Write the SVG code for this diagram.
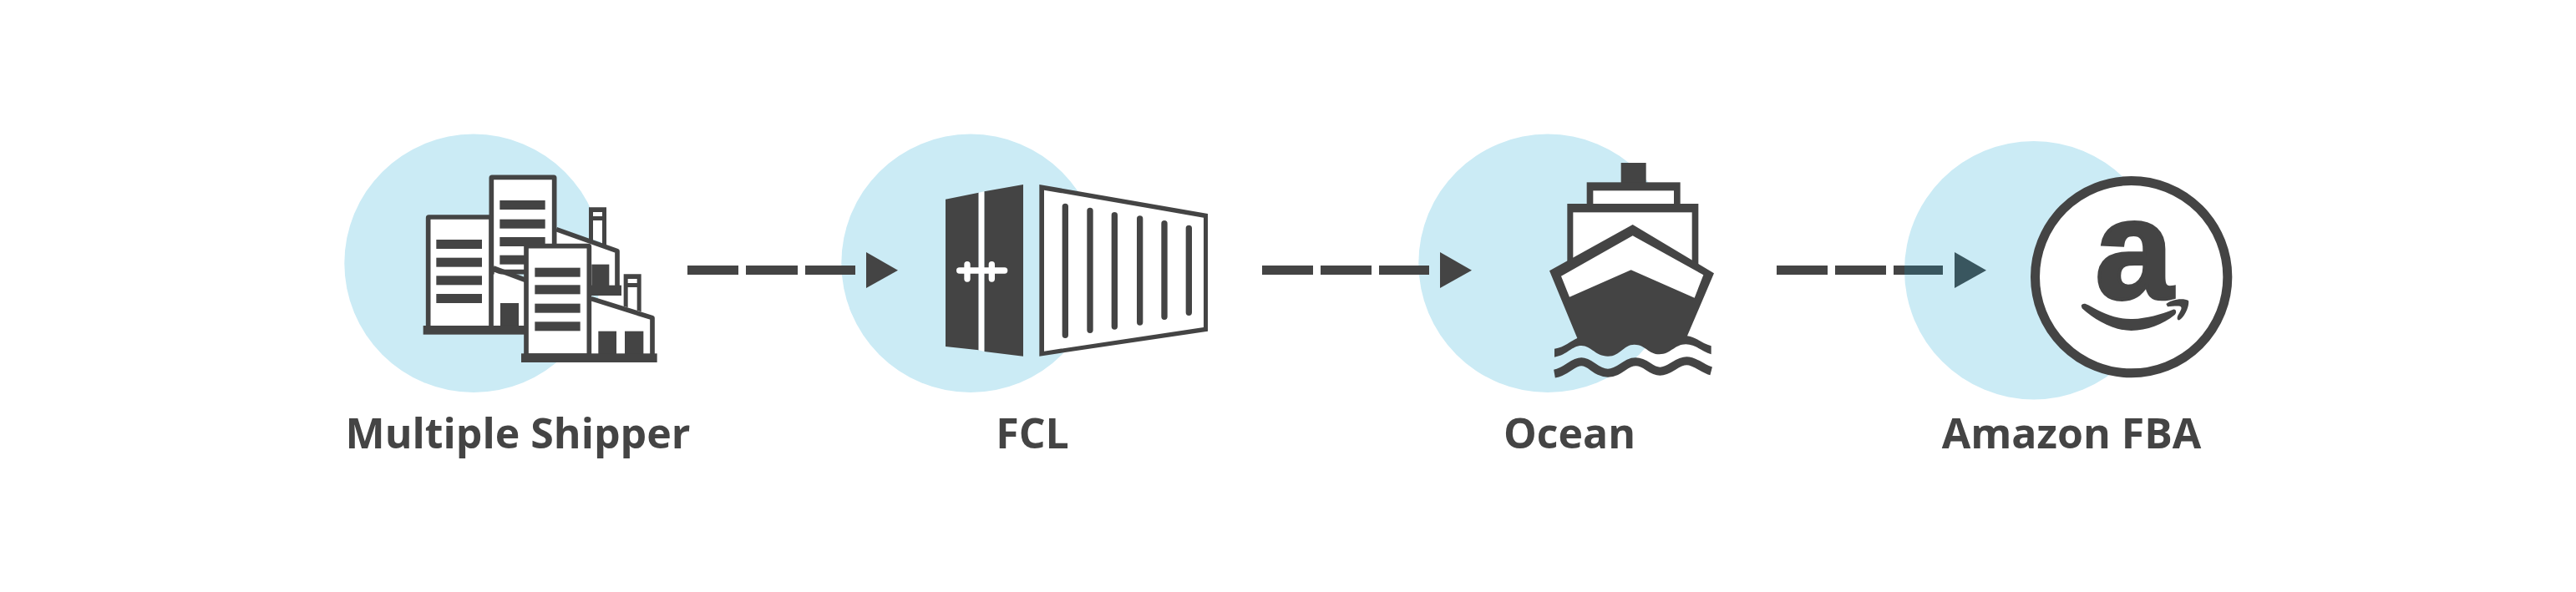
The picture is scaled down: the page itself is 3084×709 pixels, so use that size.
<svg xmlns="http://www.w3.org/2000/svg" width="3084" height="709" viewBox="0 0 3084 709">
<style>
.c{fill:#cbebf5}
.d{fill:#444}
.w{fill:#fff}
.o{fill:#fff;stroke:#444;stroke-width:17}
.l{font-family:"Open Sans",sans-serif;font-weight:700;font-size:50px;fill:#444;text-anchor:middle}
.b{stroke:#444;stroke-width:22;stroke-linecap:round;fill:none}
.h{stroke:#fff;stroke-width:22;stroke-linecap:round;fill:none}
</style>
<rect width="3084" height="709" fill="#fff"/>
<g id="node-multiple-shipper">
<circle class="c" cx="567" cy="315.3" r="154.7"/>
<g transform="translate(400 140) scale(.33333)">
<path class="w" d="M798 405L1017 482V612H900V470H798ZM572 545L690 590V752H572ZM923 655L1143 722V855H923ZM930 342H963V450L930 440ZM1055 582H1088V695L1055 680Z"/>
<path class="d" d="M915 325H978V466L963 460V372H930V445L915 440ZM930 342V357H963V342ZM1040 565H1103V700L1088 695V612H1055V685L1040 680ZM1055 582V597H1088V582Z" fill-rule="evenodd"/>
<path d="M798 404L1017 482V612M923 653L1143 722V855" fill="none" stroke="#444" stroke-width="17" stroke-linejoin="round"/>
<rect class="o" x="565" y="217" width="226" height="340" rx="2"/>
<rect class="d" x="595" y="300" width="163" height="33"/><rect class="d" x="595" y="368" width="163" height="33"/><rect class="d" x="595" y="432" width="163" height="33"/><rect class="d" x="595" y="497" width="163" height="33"/>
<path class="w" d="M575 557L680 597V752H575Z"/>
<path d="M572 543L692 588" fill="none" stroke="#444" stroke-width="17"/>
<rect class="o" x="338" y="360" width="226" height="400" rx="2"/>
<rect class="d" x="367" y="441" width="164" height="33"/><rect class="d" x="367" y="506" width="164" height="33"/><rect class="d" x="367" y="571" width="164" height="33"/><rect class="d" x="367" y="636" width="164" height="33"/>
<rect class="d" x="597" y="669" width="66" height="90"/>
<rect class="d" x="320" y="750" width="370" height="32"/>
<rect class="d" x="925" y="530" width="63" height="80"/>
<rect class="d" x="908" y="605" width="124" height="37"/>
<rect class="o" x="690" y="464" width="226" height="394" rx="2"/>
<rect class="d" x="721" y="542" width="163" height="33"/><rect class="d" x="721" y="604" width="163" height="33"/><rect class="d" x="721" y="671" width="163" height="33"/><rect class="d" x="721" y="736" width="163" height="33"/>
<rect class="d" x="949" y="770" width="65" height="85"/><rect class="d" x="1044" y="770" width="67" height="85"/>
<rect class="d" x="672" y="850" width="488" height="32"/>
</g>
<text class="l" x="620" y="537">Multiple Shipper</text>
</g>
<g id="node-fcl">
<circle class="c" cx="1162" cy="315.3" r="154.7"/>
<g transform="translate(1000 140) scale(.33333)">
<path class="d" d="M396 296L515 272V838L396 825ZM535 268L675 243V860L535 843Z"/>
<path class="w" d="M515 272L535 268V843L515 838Z"/>
<path class="h" d="M446 552H608M474 530V582M562 530V582"/>
<path class="d" d="M733 243L1338 348V770L733 860Z"/>
<path class="w" d="M750 263L1323 362V756L750 842Z"/>
<path class="b" d="M826 322V784M915 337V766M1003 353V753M1094 366V738M1182 383V718M1270 400V703"/>
</g>
<text class="l" x="1236" y="537">FCL</text>
</g>
<g id="node-ocean">
<circle class="c" cx="1853" cy="315.3" r="154.7"/>
<g transform="translate(1680 170) scale(.33333)">
<rect class="d" x="782" y="75" width="90" height="80"/>
<rect class="d" x="659" y="145" width="336" height="90"/>
<rect class="w" x="682" y="175" width="290" height="50"/>
<rect class="d" x="589" y="222" width="471" height="240"/>
<rect class="w" x="610" y="253" width="427" height="200"/>
<path class="d" d="M824 297L1116 472L1020 697C1050 700 1075 725 1106 733V763C1075 755 1050 727 1015 727C975 727 960 763 920 763C880 763 870 728 830 728C790 728 780 770 735 770C690 770 675 732 640 732C605 732 590 765 543 773V743C580 738 600 715 625 705L525 463Z"/>
<path class="w" d="M824 337L1078 478L1046 560L818 460L597 557L567 482Z"/>
<path d="M543 833C590 825 605 790 640 790C675 790 690 830 735 830C780 830 795 790 835 790C875 790 885 824 922 824C960 824 980 787 1018 787C1050 787 1075 815 1106 823" fill="none" stroke="#444" stroke-width="30"/>
</g>
<text class="l" x="1879" y="537">Ocean</text>
</g>
<g id="node-amazon-fba">
<circle class="c" cx="2434.7" cy="323.7" r="154.7"/>
<g transform="translate(2270 160) scale(.33333)">
<circle cx="845" cy="515" r="345.5" fill="#fff" stroke="#444" stroke-width="33"/>
<path class="d" d="M665 618C670 608 680 610 690 616C740 645 790 668 850 666C900 664 950 650 995 632C1008 630 1008 645 1000 652C960 685 900 708 845 708C780 708 715 670 668 628ZM970 612C985 597 1030 588 1050 600C1055 620 1035 660 1018 670C1008 672 1008 660 1014 650C1022 635 1030 625 1020 620C1010 618 990 620 975 622Z"/>
</g>
<text x="2555" y="357" font-family="'Liberation Sans',sans-serif" font-weight="700" font-size="168" fill="#444" stroke="#444" stroke-width="4" text-anchor="middle">a</text>
<text class="l" x="2480" y="537">Amazon FBA</text>
</g>
<g id="connectors">
<g class="d">
<rect x="823" y="318" width="61" height="11"/><rect x="893" y="318" width="62" height="11"/><rect x="964" y="318" width="60" height="11"/>
<path d="M1037 302L1075 323.7L1037 345Z"/>
<rect x="1511" y="318" width="61" height="11"/><rect x="1581" y="318" width="61" height="11"/><rect x="1651" y="318" width="60" height="11"/>
<path d="M1724 302L1762 323.7L1724 345Z"/>
<rect x="2127" y="318" width="61" height="11"/><rect x="2197" y="318" width="61" height="11"/><rect x="2267" y="318" width="13" height="11"/>
</g>
<rect x="2280" y="318" width="46" height="11" fill="#39565f"/>
<path d="M2340 302L2378 323.7L2340 345Z" fill="#39565f"/>
</g>
</svg>
